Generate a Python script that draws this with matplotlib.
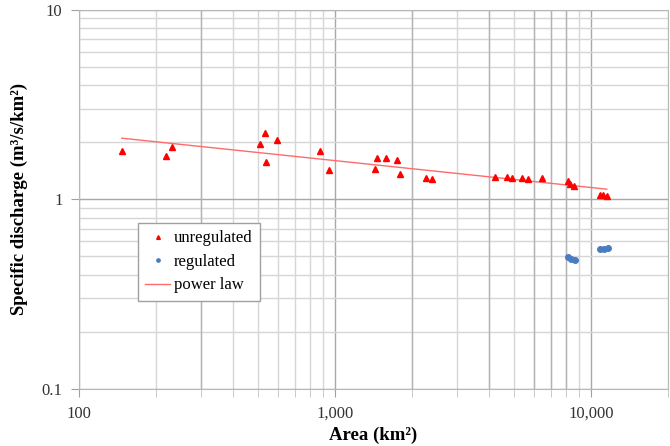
import numpy as np
import matplotlib.pyplot as plt
from matplotlib.ticker import LogLocator, FuncFormatter, NullFormatter

# Datos
area_unreg = [147, 218, 230, 511, 534, 539, 595, 872, 948, 1431, 1461, 1585,
              1742, 1793, 2263, 2390, 4200, 4680, 4930, 5400, 5700, 6450,
              8150, 8300, 8600, 10860, 11140, 11530]
q_unreg = [1.81, 1.69, 1.88, 1.95, 2.23, 1.57, 2.05, 1.81, 1.42, 1.44, 1.65, 1.65,
           1.61, 1.36, 1.29, 1.28, 1.32, 1.32, 1.29, 1.29, 1.28, 1.29,
           1.245, 1.21, 1.18, 1.06, 1.05, 1.04]

area_reg = [8150, 8360, 8670, 10840, 11210, 11640]
q_reg = [0.494, 0.482, 0.477, 0.545, 0.55, 0.553]

# Ley de potencia q = a * A^b
coef_a = 4.27
coef_b = -0.142

plt.rcParams['font.family'] = ['Liberation Serif', 'DejaVu Serif']

fig = plt.figure(figsize=(6.7, 4.46), dpi=100)
ax = fig.add_axes([0.118, 0.128, 0.879, 0.85])

# Rejilla
ax.set_xscale('log')
ax.set_yscale('log')
ax.set_xlim(100, 20000)
ax.set_ylim(0.1, 10)
ax.xaxis.set_minor_locator(LogLocator(base=10, subs=np.arange(2, 10)))
ax.yaxis.set_minor_locator(LogLocator(base=10, subs=np.arange(2, 10)))
ax.grid(True, which='major', color='#a8a8a8', linewidth=1.0)
ax.grid(True, which='minor', color='#d6d6d6', linewidth=1.0)
for xv in [300, 2000, 4000, 6000, 7000, 8000]:
    ax.axvline(xv, color='#b4b4b4', linewidth=1.0, zorder=0.6)
ax.set_axisbelow(True)

# Datos
ax.plot(area_unreg, q_unreg, '^', color='#ff0000', markersize=4.5,
        linestyle='none', label='unregulated', zorder=3)
ax.plot(area_reg, q_reg, 'o', color='#4a7cc4', markersize=4,
        linestyle='none', label='regulated', zorder=3)
a_fit = np.linspace(min(area_unreg), max(area_unreg), 200)
ax.plot(a_fit, coef_a * a_fit ** coef_b, '-', color='#ff6b6b', linewidth=1.0,
        label='power law', zorder=2)

# Ejes
fmt = FuncFormatter(lambda v, p: f'{v:,.0f}' if v >= 1 else f'{v:g}')
ax.xaxis.set_major_formatter(fmt)
ax.yaxis.set_major_formatter(fmt)
ax.xaxis.set_minor_formatter(NullFormatter())
ax.yaxis.set_minor_formatter(NullFormatter())
ax.tick_params(which='major', length=6, color='#a0a0a0', labelsize=12,
               labelcolor='#333333', pad=6)
ax.tick_params(axis='x', which='minor', length=6, color='#c0c0c0')
ax.tick_params(axis='y', which='minor', length=0)
for s in ax.spines.values():
    s.set_color('#b8b8b8')

ax.set_xlabel('Area (km²)', fontsize=13.5, fontweight='bold', labelpad=4)
ax.set_ylabel('Specific discharge (m³/s/km²)', fontsize=13.5,
              fontweight='bold', labelpad=10)

leg = ax.legend(loc='upper left', bbox_to_anchor=(0.1, 0.438), fontsize=12,
                fancybox=False, framealpha=1, edgecolor='#a0a0a0',
                handlelength=1.5, handletextpad=0.2, borderpad=0.45,
                labelspacing=0.45, markerscale=0.6, borderaxespad=0)
leg.get_frame().set_linewidth(1.0)

fig.savefig('out.png', dpi=100)
